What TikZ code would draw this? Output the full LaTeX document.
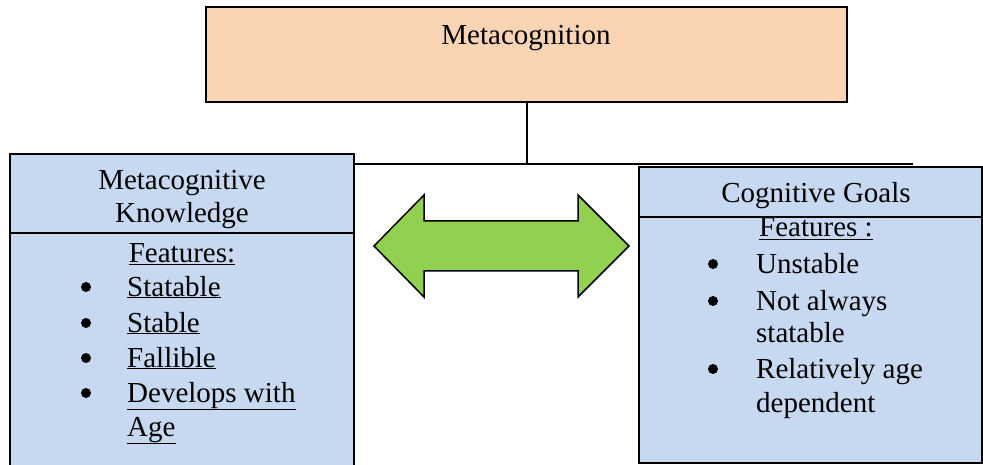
\documentclass[tikz,border=0pt]{standalone}
\usepackage{fontspec}
\setmainfont{Liberation Serif}
\definecolor{peach}{HTML}{FBD4B4}
\definecolor{paleblue}{HTML}{C6D9F1}
\definecolor{arrowgreen}{HTML}{92D050}
\begin{document}
\begin{tikzpicture}[x=1pt,y=-1pt,
  box/.style={draw=black, line width=1.5pt, inner sep=0pt, outer sep=0pt, anchor=north west},
  txt/.style={anchor=base, inner sep=0pt, font=\fontsize{29}{35.5}\selectfont},
  ltxt/.style={anchor=base west, inner sep=0pt, font=\fontsize{29}{35.5}\selectfont},
  bul/.style={circle, fill=black, inner sep=0pt, minimum size=10pt},
  conn/.style={draw=black, line width=1.5pt}]
\useasboundingbox (0,0) rectangle (983,465);
% top box
\node[box, fill=peach, minimum width=641pt, minimum height=95pt] (meta) at (206,7) {};
\node[txt] (metat) at (526,45) {Metacognition};
% left box
\node[box, fill=paleblue, minimum width=344pt, minimum height=330pt] (lbox) at (10,154) {};
\draw[line width=1.5pt] (10,233) -- (354,233);
\node[txt] (lh1) at (182,190) {Metacognitive};
\node[txt] (lh2) at (182,223) {Knowledge};
\node[txt] (lf) at (182,262) {\underline{Features:}};
\node[bul] (lb1) at (86,287) {};
\node[ltxt] (li1) at (127,296) {\underline{Statable}};
\node[bul] (lb2) at (86,323) {};
\node[ltxt] (li2) at (127,332) {\underline{Stable}};
\node[bul] (lb3) at (86,358) {};
\node[ltxt] (li3) at (127,367) {\underline{Fallible}};
\node[bul] (lb4) at (86,393) {};
\node[ltxt] (li4) at (127,402) {\underline{Develops with}};
\node[ltxt] (li5) at (127,436) {\underline{Age}};
% right box
\node[box, fill=paleblue, minimum width=343pt, minimum height=296pt] (rbox) at (639,167) {};
\draw[line width=1.5pt] (639,217) -- (982,217);
\node[txt] (rh) at (816,203) {Cognitive Goals};
\node[txt] (rf) at (816,237) {\underline{Features :}};
\node[bul] (rb1) at (713,264) {};
\node[ltxt] (ri1) at (756,273) {Unstable};
\node[bul] (rb2) at (713,301) {};
\node[ltxt] (ri2) at (756,310) {Not always};
\node[ltxt] (ri3) at (756,342) {statable};
\node[bul] (rb3) at (713,369) {};
\node[ltxt] (ri4) at (756,378) {Relatively age};
\node[ltxt] (ri5) at (756,412) {dependent};
% connectors
\coordinate (hm) at (527,164);
\coordinate (hl) at (354,164);
\coordinate (hr) at (913,164);
\draw[conn] (meta.south -| hm) -- (hm);
\draw[conn] (hl) -- (hr);
% double arrow
\draw[line width=1.5pt, fill=arrowgreen, line join=miter]
  (374,246) -- (424,195) -- (424,221) -- (578,221) -- (578,195) -- (629,246)
  -- (578,297) -- (578,271) -- (424,271) -- (424,297) -- cycle;
\end{tikzpicture}
\end{document}
